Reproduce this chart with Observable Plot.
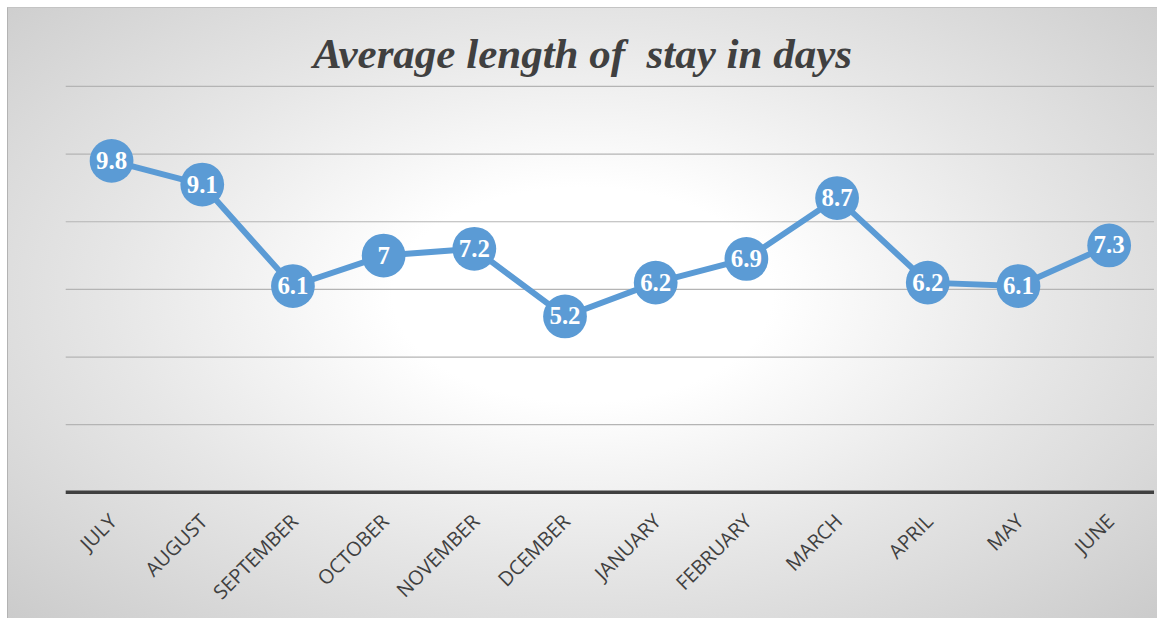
<!DOCTYPE html>
<html>
<head>
<meta charset="utf-8">
<script src="https://cdn.jsdelivr.net/npm/d3@7"></script>
<script src="https://cdn.jsdelivr.net/npm/@observablehq/plot@0.6"></script>
<style>
  html, body { margin: 0; padding: 0; background: #ffffff; }
  body { width: 1157px; height: 620px; position: relative; overflow: hidden; }
  #card {
    position: absolute; left: 7px; top: 7px; width: 1150px; height: 611px;
    background: radial-gradient(ellipse 75% 80% at 50% 47%, #ffffff 0%, #ffffff 22%, #e6e6e6 55%, #c7c7c7 100%);
    border-left: 1px solid #b3b3b3; border-top: 1px solid #c4c4c4;
    box-sizing: border-box; overflow: hidden;
  }
  #title {
    height: 72px; box-sizing: border-box; padding-top: 24px;
    font-family: "Liberation Serif", "Times New Roman", serif;
    font-weight: bold; font-style: italic; font-size: 43px; line-height: 43px;
    color: #404040; text-align: center; white-space: pre;
  }
  #chart svg { display: block; background: transparent; }
</style>
</head>
<body>
<div id="card">
  <div id="title">Average length of  stay in days</div>
  <div id="chart"></div>
</div>
<script>
// Months of the stay year, July through June
const months = ["JULY", "AUGUST", "SEPTEMBER", "OCTOBER", "NOVEMBER", "DCEMBER",
                "JANUARY", "FEBRUARY", "MARCH", "APRIL", "MAY", "JUNE"];
// Average length of stay (days) for each month
const avgStay = [9.8, 9.1, 6.1, 7, 7.2, 5.2, 6.2, 6.9, 8.7, 6.2, 6.1, 7.3];
// Horizontal gridline levels
const gridLevels = [2, 4, 6, 8, 10, 12];

const data = months.map((m, i) => ({month: m, days: avgStay[i]}));
const blue = "#5b9bd5";

const chart = Plot.plot({
  width: 1155,
  height: 539,
  marginTop: 6,
  marginBottom: 125,
  marginLeft: 58,
  marginRight: 3,
  style: {background: "transparent", overflow: "visible"},
  x: {type: "point", domain: months, padding: 0.5, round: false, axis: null},
  y: {domain: [0, 12], axis: null},
  marks: [
    Plot.ruleY(gridLevels, {stroke: "#b4b4b4", strokeWidth: 1.2}),
    Plot.ruleY([0], {stroke: "#404040", strokeWidth: 3.5}),
    // rotated month labels hanging below the baseline
    Plot.text(months, {
      x: d => d, y: () => 0, text: d => d,
      rotate: -45, textAnchor: "end", dx: 2, dy: 26,
      fontFamily: "'Open Sans', sans-serif", fontSize: 20, fill: "#404040"
    }),
    Plot.line(data, {x: "month", y: "days", stroke: blue, strokeWidth: 6, strokeLinejoin: "round"}),
    Plot.dot(data, {x: "month", y: "days", r: 22, fill: blue, stroke: null}),
    Plot.text(data, {
      x: "month", y: "days", text: d => String(d.days),
      fill: "white", fontWeight: "bold", fontSize: 25,
      fontFamily: "'Liberation Serif', 'Times New Roman', serif"
    })
  ]
});
document.getElementById("chart").append(chart);
</script>
</body>
</html>
